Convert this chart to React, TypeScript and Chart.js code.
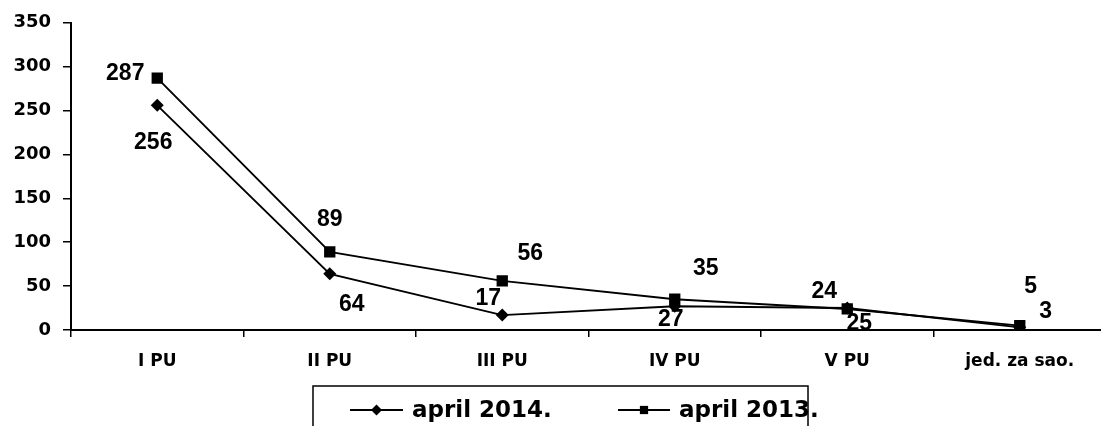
import React, { useEffect, useRef } from "react";
import { Chart, registerables } from "chart.js";

Chart.register(...registerables);

const categories = ["I PU", "II PU", "III PU", "IV PU", "V PU", "jed. za sao."];
const april2014 = [256, 64, 17, 27, 25, 3];
const april2013 = [287, 89, 56, 35, 24, 5];
const seriesNames = ["april 2014.", "april 2013."];
const yMin = 0;
const yMax = 350;
const yStep = 50;

// label placement offsets (style only)
const labelOffsets2014 = [[-4, 35], [22, 29], [-14, -18], [-4, 11], [12, 14], [26, -18]];
const labelOffsets2013 = [[-32, -6], [0, -34], [28, -29], [31, -33], [-23, -19], [11, -41]];

const TICK_FONT = "DejaVu Sans";
const LABEL_FONT = "Liberation Sans";

const labelPlugin = {
  id: "valueLabels",
  afterDatasetsDraw(chart: any) {
    const ctx = chart.ctx;
    const size = 23;
    ctx.save();
    ctx.font = `bold ${size}px "${LABEL_FONT}"`;
    ctx.fillStyle = "#000";
    ctx.textAlign = "center";
    ctx.textBaseline = "alphabetic";
    const offs = [labelOffsets2014, labelOffsets2013];
    chart.data.datasets.forEach((ds: any, di: number) => {
      const meta = chart.getDatasetMeta(di);
      meta.data.forEach((pt: any, i: number) => {
        const o = offs[di][i];
        ctx.fillText(String(ds.data[i]), pt.x + o[0], pt.y + o[1] + size * 0.716 / 2);
      });
    });
    ctx.restore();
  },
};

const legendPlugin = {
  id: "boxLegend",
  afterDraw(chart: any) {
    const ctx = chart.ctx;
    ctx.save();
    ctx.strokeStyle = "#000";
    ctx.lineWidth = 1.5;
    ctx.strokeRect(313, 386, 495, 60);
    const items = [
      { x0: 350, x1: 403, tx: 412, style: "rectRot", r: 5.5 },
      { x0: 618, x1: 670, tx: 679, style: "rect", r: 5.5 },
    ];
    const ly = 410;
    ctx.font = `bold 23px "${TICK_FONT}"`;
    ctx.fillStyle = "#000";
    ctx.textBaseline = "alphabetic";
    ctx.textAlign = "left";
    items.forEach((it, i) => {
      ctx.beginPath();
      ctx.lineWidth = 1.8;
      ctx.moveTo(it.x0, ly);
      ctx.lineTo(it.x1, ly);
      ctx.stroke();
      ctx.fillStyle = "#000";
      const cx = (it.x0 + it.x1) / 2;
      ctx.beginPath();
      if (it.style === "rectRot") {
        ctx.moveTo(cx - it.r, ly);
        ctx.lineTo(cx, ly - it.r);
        ctx.lineTo(cx + it.r, ly);
        ctx.lineTo(cx, ly + it.r);
        ctx.closePath();
      } else {
        const s = it.r * 0.75;
        ctx.rect(cx - s, ly - s, 2 * s, 2 * s);
      }
      ctx.fill();
      ctx.fillText(chart.data.datasets[i].label, it.tx, 417);
    });
    ctx.restore();
  },
};

export default function App() {
  const ref = useRef<HTMLCanvasElement | null>(null);
  useEffect(() => {
    document.body.style.margin = "0";
    if (!ref.current) return;
    const chart = new Chart(ref.current, {
      type: "line",
      data: {
        labels: categories,
        datasets: [
          {
            label: seriesNames[0],
            data: april2014,
            borderColor: "#000",
            backgroundColor: "#000",
            borderWidth: 1.9,
            pointStyle: "rectRot",
            pointRadius: 6.5,
            pointBorderWidth: 0,
            tension: 0,
          },
          {
            label: seriesNames[1],
            data: april2013,
            borderColor: "#000",
            backgroundColor: "#000",
            borderWidth: 1.9,
            pointStyle: "rect",
            pointRadius: 8,
            pointBorderWidth: 0,
            tension: 0,
          },
        ],
      },
      options: {
        animation: false,
        responsive: false,
        maintainAspectRatio: false,
        layout: { padding: { top: 20, right: 2, left: 0, bottom: 0 } },
        plugins: {
          legend: { display: false },
          tooltip: { enabled: false },
        },
        scales: {
          x: {
            type: "category",
            offset: true,
            grid: {
              display: true,
              drawOnChartArea: false,
              drawTicks: true,
              tickLength: 7,
              color: "#000",
              lineWidth: 1.5,
              offset: true,
            },
            border: { display: true, color: "#000", width: 2 },
            ticks: {
              color: "#000",
              font: { family: TICK_FONT, size: 17, weight: "bold" },
              padding: 14,
              maxRotation: 0,
              autoSkip: false,
            },
            afterFit(scale: any) {
              scale.height = 96;
            },
          },
          y: {
            min: yMin,
            max: yMax,
            ticks: {
              stepSize: yStep,
              color: "#000",
              font: { family: TICK_FONT, size: 18, weight: "bold" },
              padding: 12,
            },
            grid: {
              display: true,
              drawOnChartArea: false,
              drawTicks: true,
              tickLength: 8,
              color: "#000",
              lineWidth: 1.5,
            },
            border: { display: true, color: "#000", width: 2 },
            afterFit(scale: any) {
              scale.width = 71;
            },
          },
        },
      },
      plugins: [labelPlugin, legendPlugin],
    });
    return () => chart.destroy();
  }, []);
  return (
    <div style={{ position: "fixed", left: 0, top: 0, width: 1101, height: 426, overflow: "hidden", background: "#fff" }}>
      <canvas ref={ref} width={1114} height={426} style={{ width: 1114, height: 426, display: "block" }} />
    </div>
  );
}
